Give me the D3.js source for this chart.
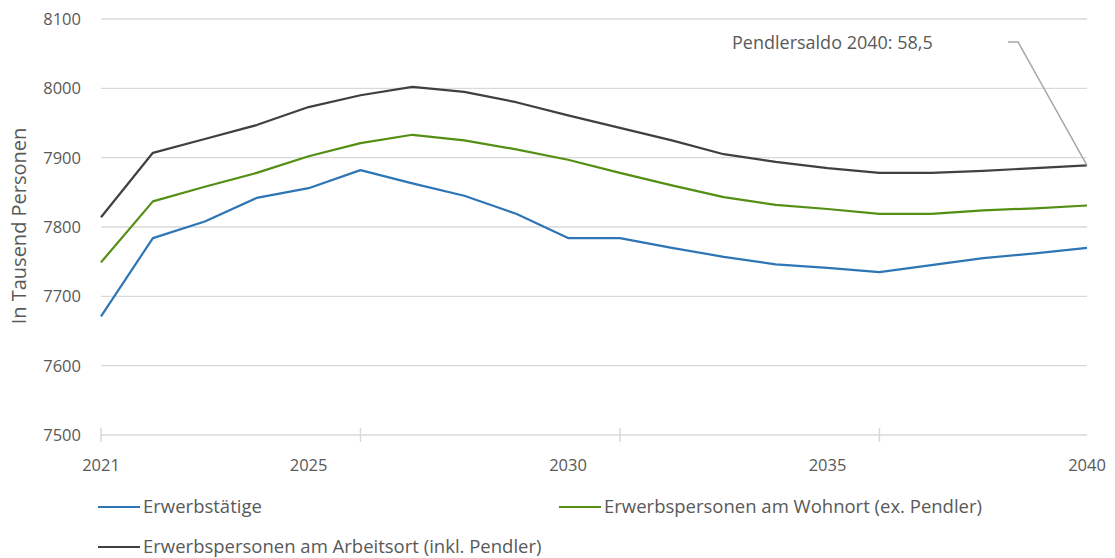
<!DOCTYPE html>
<html>
<head>
<meta charset="utf-8">
<script src="https://cdn.jsdelivr.net/npm/d3@7"></script>
<style>
  body { margin: 0; background: #fff; }
  svg text { font-family: "Open Sans", "Noto Sans", sans-serif; fill: #595959; }
</style>
</head>
<body>
<svg width="1115" height="558"></svg>
<script>
const years = [2021,2022,2023,2024,2025,2026,2027,2028,2029,2030,2031,2032,2033,2034,2035,2036,2037,2038,2039,2040];
const erwerbstaetige = [7671,7784,7808,7842,7856,7882,7863,7845,7819,7784,7784,7770,7757,7746,7741,7735,7745,7755,7762,7770];
const wohnort = [7749,7837,7858,7878,7902,7921,7933,7925,7912,7897,7878,7860,7843,7832,7826,7819,7819,7824,7827,7831];
const arbeitsort = [7814,7907,7927,7947,7973,7990,8002,7995,7980,7961,7943,7925,7905,7894,7885,7878,7878,7881,7885,7889];
const yTicks = [7500,7600,7700,7800,7900,8000,8100];
const xLabels = [2021,2025,2030,2035,2040];
const xTickMarks = [2021,2026,2031,2036];
const series = [
  {name: "Erwerbstätige", values: erwerbstaetige, color: "#2e75b6"},
  {name: "Erwerbspersonen am Wohnort (ex. Pendler)", values: wohnort, color: "#548f14"},
  {name: "Erwerbspersonen am Arbeitsort (inkl. Pendler)", values: arbeitsort, color: "#404040"}
];

const svg = d3.select("svg");
const x = d3.scaleLinear().domain([2021, 2040]).range([101, 1087]);
const y = d3.scaleLinear().domain([7500, 8100]).range([435, 19]);

// gridlines
svg.append("g").selectAll("line")
  .data(yTicks.slice(1))
  .enter().append("line")
  .attr("x1", 101).attr("x2", 1087)
  .attr("y1", d => y(d)).attr("y2", d => y(d))
  .attr("stroke", "#d9d9d9").attr("stroke-width", 1.3);

// y labels
svg.append("g").selectAll("text")
  .data(yTicks)
  .enter().append("text")
  .attr("x", 81).attr("y", d => y(d) + 6)
  .attr("text-anchor", "end")
  .style("font-size", "16.5px")
  .text(d => d);

// x axis line + ticks
svg.append("line")
  .attr("x1", 101).attr("x2", 1087)
  .attr("y1", y(7500)).attr("y2", y(7500))
  .attr("stroke", "#d9d9d9").attr("stroke-width", 1.5);
svg.append("g").selectAll("line")
  .data(xTickMarks)
  .enter().append("line")
  .attr("x1", d => x(d)).attr("x2", d => x(d))
  .attr("y1", y(7500) - 7).attr("y2", y(7500) + 7)
  .attr("stroke", "#d9d9d9").attr("stroke-width", 1.5);
svg.append("g").selectAll("text")
  .data(xLabels)
  .enter().append("text")
  .attr("x", d => x(d)).attr("y", 471)
  .attr("text-anchor", "middle")
  .style("font-size", "16.5px")
  .text(d => d);

// y title
svg.append("text")
  .attr("transform", "translate(26,226) rotate(-90)")
  .attr("text-anchor", "middle")
  .style("font-size", "20px")
  .text("In Tausend Personen");

// lines
const line = d3.line().x((d, i) => x(years[i])).y(d => y(d));
series.forEach(s => {
  svg.append("path")
    .attr("d", line(s.values))
    .attr("fill", "none")
    .attr("stroke", s.color)
    .attr("stroke-width", 2.2)
    .attr("stroke-linejoin", "round");
});

// annotation
svg.append("path")
  .attr("d", "M" + 1008 + "," + 42 + "L" + 1018 + "," + 42 + "L" + x(2040) + "," + y(arbeitsort[19]))
  .attr("fill", "none").attr("stroke", "#a6a6a6").attr("stroke-width", 1.5);
svg.append("text")
  .attr("x", 732).attr("y", 49)
  .style("font-size", "18px")
  .text("Pendlersaldo 2040: 58,5");

// legend
const legendPos = [[98, 507], [559, 507], [98, 547]];
series.forEach((s, i) => {
  const [lx, ly] = legendPos[i];
  svg.append("line")
    .attr("x1", lx).attr("x2", lx + 42)
    .attr("y1", ly).attr("y2", ly)
    .attr("stroke", s.color).attr("stroke-width", 2.2);
  svg.append("text")
    .attr("x", lx + 45).attr("y", ly + 6)
    .style("font-size", "18.5px")
    .text(s.name);
});
</script>
</body>
</html>
